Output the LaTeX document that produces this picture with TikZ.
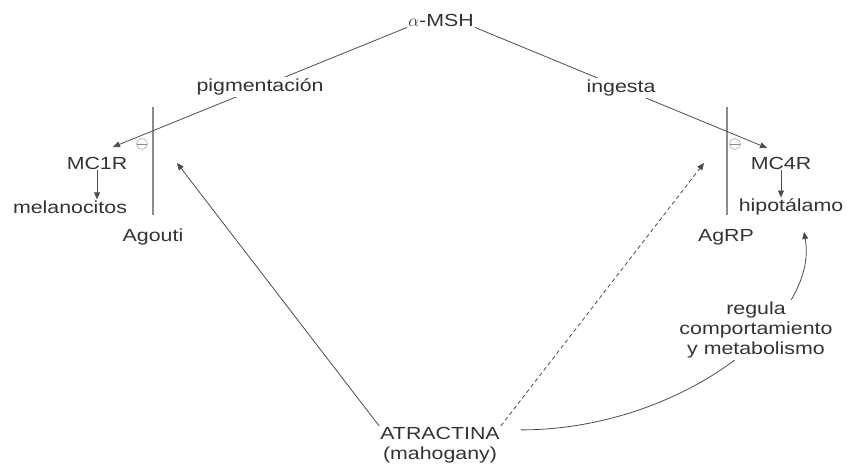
\documentclass[tikz,border=0pt]{standalone}
\usepackage{fontspec}
\setmainfont{Liberation Sans}[FakeStretch=1.22]
\usetikzlibrary{arrows.meta,positioning}

\begin{document}
\begin{tikzpicture}[x=1pt, y=-1pt,
  txt/.style={font=\fontsize{17.5}{20}\selectfont, text=black!80,
              inner sep=1pt, align=center},
  lbl/.style={txt, fill=white, inner sep=2pt},
  arr/.style={-{Triangle[length=7pt,width=6pt]}, draw=black!70, line width=0.8pt},
  bar/.style={draw=black!45, line width=1.2pt},
  minus/.style={circle, draw=black!45, minimum size=11pt, inner sep=0pt,
                path picture={\draw[black!45] (path picture bounding box.west)
                  -- (path picture bounding box.east);}}
]
  \useasboundingbox (0,0) rectangle (848,465);

  \node[txt] (msh) at (441,20) {$\alpha$-MSH};
  \node[txt] (mc1r) at (97,163) {MC1R};
  \node[txt] (mel) at (70,207) {melanocitos};
  \node[txt] (ago) at (153,237) {Agouti};
  \node[txt] (mc4r) at (781,163) {MC4R};
  \node[txt] (hip) at (791,207) {hipotálamo};
  \node[txt] (agrp) at (726,237) {AgRP};
  \node[txt] (atr) at (440,445) {ATRACTINA\\(mahogany)};
  \node[minus] (m1) at (142,144) {};
  \node[minus] (m2) at (735,144) {};

  % receptor barriers and arrow targets
  \coordinate (bar1a) at (153,107);
  \coordinate (bar1b) at (153,215);
  \coordinate (bar2a) at (727,107);
  \coordinate (bar2b) at (727,215);
  \coordinate (mc1rin) at (113,147);
  \coordinate (mc4rin) at (767,148);
  \coordinate (agin) at (177,163);
  \coordinate (agrpin) at (704,163);
  \coordinate (hipin) at (804,232);

  \draw[bar] (bar1a) -- (bar1b);
  \draw[bar] (bar2a) -- (bar2b);

  \draw[arr] (msh.south west) -- node[lbl] {pigmentación} (mc1rin);
  \draw[arr] (msh.south east) -- node[lbl] {ingesta} (mc4rin);
  \draw[arr] (mc1r.south) -- (mc1r.south |- mel.north);
  \draw[arr] (mc4r.south) -- (mc4r.south |- hip.north);

  \draw[arr] (atr.north west) -- (agin);
  \draw[arr, dash pattern=on 4pt off 3pt] (atr.north east) -- (agrpin);
  \draw[arr] ([xshift=20pt,yshift=-4pt]atr.north east)
    .. controls +(159,0) and +(16,88) .. (hipin);
  \node[lbl] (reg) at (756,330) {regula\\comportamiento\\y metabolismo};
\end{tikzpicture}
\end{document}
